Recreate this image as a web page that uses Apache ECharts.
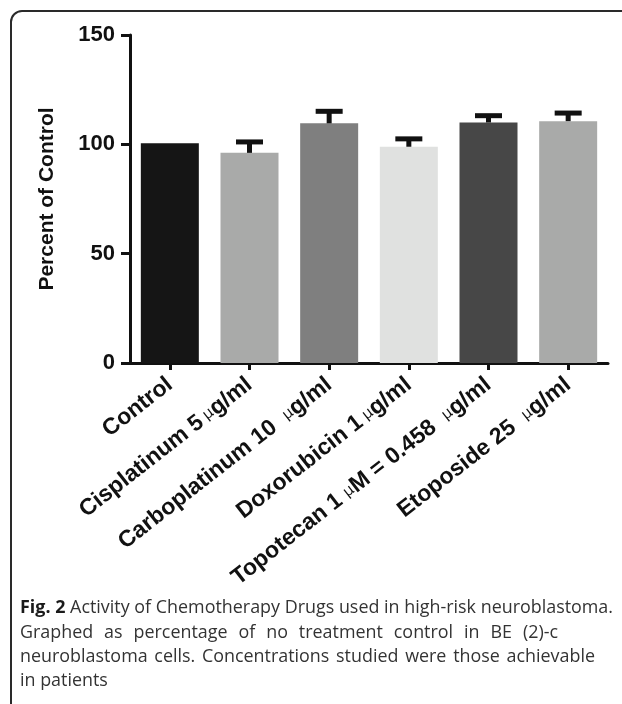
<!DOCTYPE html>
<html><head><meta charset="utf-8">
<script src="https://cdn.jsdelivr.net/npm/echarts@6/dist/echarts.min.js"></script>
<style>html,body{margin:0;padding:0;background:#fff}#c{width:622px;height:704px}</style>
</head><body><div id="c"></div>
<script>
// ---- data ----
const categories = ['Control', 'Cisplatinum 5\u2009μg/ml', 'Carboplatinum 10  μg/ml', 'Doxorubicin 1\u2009μg/ml', 'Topotecan 1 μM = 0.458  μg/ml', 'Etoposide 25  μg/ml'];
const values = [100.5, 96.1, 109.6, 98.9, 110.0, 110.6];
const errorTops = [null, 101.1, 115.1, 102.5, 113.1, 114.3];
const barColors = ['#151515', '#a9aaa9', '#7f7f7f', '#e0e1e0', '#474747', '#a9aaa9'];
const yMin = 0, yMax = 150, yStep = 50;
const yName = 'Percent of Control';
const captionLines = [
  [['Fig. 2', true], ['Activity', false], ['of', false], ['Chemotherapy', false], ['Drugs', false], ['used', false], ['in', false], ['high-risk', false], ['neuroblastoma.', false]],
  [['Graphed', false], ['as', false], ['percentage', false], ['of', false], ['no', false], ['treatment', false], ['control', false], ['in', false], ['BE', false], ['(2)-c', false]],
  [['neuroblastoma', false], ['cells.', false], ['Concentrations', false], ['studied', false], ['were', false], ['those', false], ['achievable', false]],
  [['in', false], ['patients', false]]
];
const captionRight = [613, 558, 595, null];

// ---- caption layout ----
const capFamily = 'Open Sans';
const capLeft = 20;
const capY = [608, 633, 657, 681];
const cv = document.createElement('canvas').getContext('2d');
function measureAt(t, bold, size) {
  cv.font = (bold ? 'bold ' : 'normal ') + size + 'px "' + capFamily + '"';
  return cv.measureText(t).width;
}
function lineWidth(line, size) {
  let w = 0;
  line.forEach((t, i) => { w += measureAt(t[0], t[1], size) + (i ? measureAt(' ', false, size) : 0); });
  return w;
}
const capSize = Math.round(16 * (captionRight[0] - capLeft) / lineWidth(captionLines[0], 16) * 10) / 10;
const spaceW = measureAt(' ', false, capSize);
const graphics = [{
  type: 'rect', z: -1, silent: true,
  shape: {x: 11, y: 11, width: 660, height: 710, r: 11},
  style: {fill: 'none', stroke: '#2a2a2a', lineWidth: 2}
}];
captionLines.forEach((line, li) => {
  const widths = line.map(w => measureAt(w[0], w[1], capSize));
  const total = widths.reduce((a, b) => a + b, 0);
  let gap = spaceW;
  if (captionRight[li] !== null) gap = (captionRight[li] - capLeft - total) / (line.length - 1);
  let x = capLeft;
  line.forEach((w, wi) => {
    graphics.push({
      type: 'text', x: x, y: capY[li], silent: true,
      style: {text: w[0], fontSize: capSize, fontFamily: capFamily, fontWeight: w[1] ? 'bold' : 'normal',
        fill: w[1] ? '#1a1a1a' : '#333', verticalAlign: 'middle', align: 'left'}
    });
    x += widths[wi] + gap;
  });
});

// ---- chart ----
const chart = echarts.init(document.getElementById('c'), null, {renderer: 'canvas'});
const labelFont = 'Liberation Sans';
const errData = [];
errorTops.forEach((e, i) => { if (e !== null) errData.push([i, values[i], e]); });

chart.setOption({
  animation: false,
  backgroundColor: '#fff',
  grid: {left: 130, right: 14, top: 35, bottom: 341, containLabel: false},
  xAxis: {
    type: 'category', data: categories,
    axisLine: {show: true, lineStyle: {color: '#111', width: 3}},
    axisTick: {show: true, alignWithLabel: true, length: 7, lineStyle: {color: '#111', width: 3}},
    axisLabel: {
      interval: 0, rotate: 38, margin: 19, color: '#111', fontWeight: 'bold',
      fontSize: 23, fontFamily: labelFont,
      formatter: v => v.split('μ').join('{mu|μ}'),
      rich: {mu: {fontSize: 15, fontWeight: 'normal', fontFamily: 'DejaVu Sans', color: '#111'}}
    }
  },
  yAxis: {
    type: 'value', min: yMin, max: yMax, interval: yStep,
    name: yName, nameLocation: 'middle', nameGap: 72,
    nameTextStyle: {fontSize: 21, fontWeight: 'bold', color: '#111', fontFamily: labelFont},
    axisLine: {show: true, lineStyle: {color: '#111', width: 3}},
    axisTick: {show: true, length: 9, lineStyle: {color: '#111', width: 3}},
    splitLine: {show: false},
    axisLabel: {margin: 15, fontSize: 22, fontWeight: 'bold', color: '#111', fontFamily: labelFont}
  },
  series: [
    {
      type: 'bar', barWidth: 58,
      data: values.map((v, i) => ({value: v, itemStyle: {color: barColors[i]}})),
      z: 2
    },
    {
      type: 'custom', z: 3,
      data: errData,
      renderItem: function (params, api) {
        const i = api.value(0);
        const pBar = api.coord([i, api.value(1)]);
        const pTop = api.coord([i, api.value(2)]);
        const cx = pBar[0];
        return {
          type: 'group',
          children: [
            {type: 'rect', shape: {x: cx - 2.5, y: pTop[1], width: 5, height: pBar[1] - pTop[1]}, style: {fill: '#111'}},
            {type: 'rect', shape: {x: cx - 13.5, y: pTop[1] - 2.5, width: 27, height: 5}, style: {fill: '#111'}}
          ]
        };
      }
    }
  ],
  graphic: graphics
});
</script>
</body></html>
